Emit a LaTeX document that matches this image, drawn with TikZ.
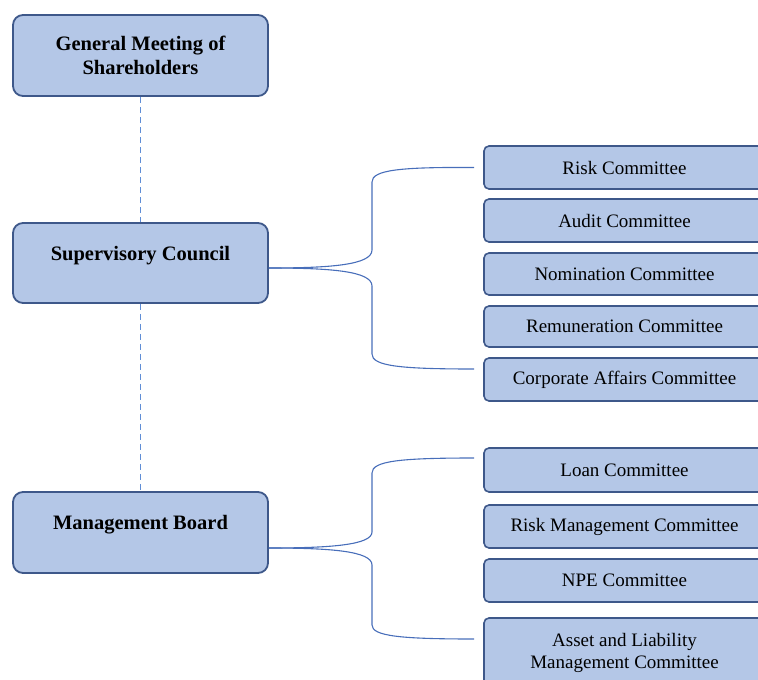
\documentclass[tikz,border=0pt]{standalone}
\usepackage{fontspec}
\setmainfont{Liberation Serif}
\usepackage{tikz}
\usetikzlibrary{positioning}

\definecolor{boxfill}{RGB}{180,199,231}
\definecolor{boxline}{RGB}{62,88,138}
\definecolor{linkblue}{RGB}{72,110,186}
\definecolor{dashblue}{RGB}{96,142,214}

\begin{document}
\begin{tikzpicture}[x=1pt, y=-1pt,
  mainbox/.style={draw=boxline, fill=boxfill, line width=1.8pt, rounded corners=10pt,
    minimum width=255pt, align=center, inner sep=0pt,
    font=\fontsize{20.5}{24}\selectfont\bfseries},
  subbox/.style={draw=boxline, fill=boxfill, line width=1.6pt, rounded corners=5pt,
    minimum width=281pt, align=center, inner sep=0pt,
    font=\fontsize{19}{22}\selectfont},
  link/.style={draw=linkblue, line width=1.1pt},
  chain/.style={draw=dashblue, line width=1.3pt, dash pattern=on 6pt off 4pt}]
  \clip (0,0) rectangle (758,680);
  \useasboundingbox (0,0) rectangle (758,680);

  % Left column
  \node[mainbox, minimum height=81pt] (gm) at (140.5,55.5) {General Meeting of\\Shareholders};
  \node[mainbox, minimum height=80pt, text depth=19pt] (sc) at (140.5,263) {Supervisory Council};
  \node[mainbox, minimum height=81pt, text depth=20pt] (mb) at (140.5,532.5) {Management Board};

  \draw[chain] (gm.south) -- (sc.north);
  \draw[chain] (sc.south) -- (mb.north);

  % Committees of the council
  \node[subbox, minimum height=43pt] (risk) at (624.5,167.5) {Risk Committee};
  \node[subbox, minimum height=43pt] (audit) at (624.5,220.5) {Audit Committee};
  \node[subbox, minimum height=42pt] (nom) at (624.5,274) {Nomination Committee};
  \node[subbox, minimum height=41pt] (rem) at (624.5,326.5) {Remuneration Committee};
  \node[subbox, minimum height=43pt] (corp) at (624.5,379.5) {Corporate Affairs Committee};

  % Committees of the board
  \node[subbox, minimum height=44pt] (loan) at (624.5,470) {Loan Committee};
  \node[subbox, minimum height=43pt] (rmc) at (624.5,526.5) {Risk Management Committee};
  \node[subbox, minimum height=43pt] (npe) at (624.5,580.5) {NPE Committee};
  \node[subbox, minimum height=70pt] (alm) at (624.5,653) {Asset and Liability\\Management Committee};

  % Brackets
  \draw[link] ([yshift=-5pt]sc.east) .. controls (330,268) and (372,265) .. (372,250)
    -- (372,182) .. controls (372,170) and (400,167) .. ([xshift=-9pt]risk.west);
  \draw[link] ([yshift=-5pt]sc.east) .. controls (330,268) and (372,271) .. (372,286)
    -- (372,354) .. controls (372,366) and (400,369) .. ([xshift=-9pt,yshift=10.5pt]corp.west);
  \draw[link] ([yshift=-15.5pt]mb.east) .. controls (330,548) and (372,545) .. (372,532)
    -- (372,473) .. controls (372,461) and (400,458) .. ([xshift=-9pt,yshift=12pt]loan.west);
  \draw[link] ([yshift=-15.5pt]mb.east) .. controls (330,548) and (372,551) .. (372,565)
    -- (372,625) .. controls (372,636) and (400,639) .. ([xshift=-9pt,yshift=14pt]alm.west);
\end{tikzpicture}
\end{document}
